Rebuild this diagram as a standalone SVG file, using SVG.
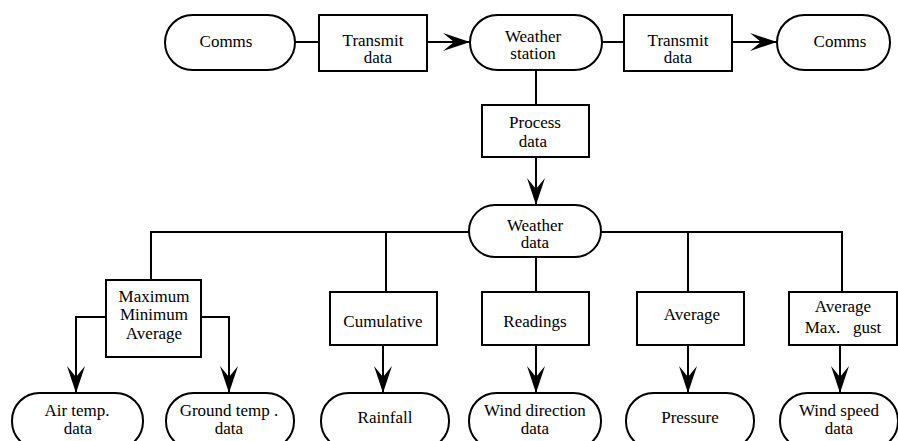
<svg xmlns="http://www.w3.org/2000/svg" width="898" height="441" viewBox="0 0 898 441">
<style>
.n{fill:#fff;stroke:#000;stroke-width:2}
.c{fill:none;stroke:#000;stroke-width:2}
.t{font-family:'Liberation Serif',serif;font-size:17px;text-anchor:middle;fill:#000}
</style>
<defs>
<marker id="ah" markerUnits="userSpaceOnUse" markerWidth="27" markerHeight="18" viewBox="0 0 27 18" refX="27" refY="9" orient="auto">
<path d="M0,0 L27,9 L0,18 L11,9 Z" fill="#000"/>
</marker>
</defs>
<g id="connectors">
<path class="c" d="M295,42 H319"/>
<path class="c" d="M427,42 H470" marker-end="url(#ah)"/>
<path class="c" d="M602,42 H624"/>
<path class="c" d="M732,42 H777" marker-end="url(#ah)"/>
<path class="c" d="M536,70 V105"/>
<path class="c" d="M536,157 V205" marker-end="url(#ah)"/>
<path class="c" d="M469,232 H151 V280"/>
<path class="c" d="M601,232 H842 V292"/>
<path class="c" d="M386,232 V292"/>
<path class="c" d="M688,232 V292"/>
<path class="c" d="M536,257 V292"/>
<path class="c" d="M106,317 H76 V393" marker-end="url(#ah)"/>
<path class="c" d="M201,317 H229 V393" marker-end="url(#ah)"/>
<path class="c" d="M383,345 V393" marker-end="url(#ah)"/>
<path class="c" d="M536,345 V393" marker-end="url(#ah)"/>
<path class="c" d="M688,345 V393" marker-end="url(#ah)"/>
<path class="c" d="M840,345 V393" marker-end="url(#ah)"/>
</g>
<g id="comms1"><rect class="n" x="165" y="15" width="130" height="55" rx="27.5"/><text class="t" x="226" y="47">Comms</text></g>
<g id="transmit1"><rect class="n" x="319" y="15" width="108" height="56"/><text class="t" x="373" y="46">Transmit</text><text class="t" x="378" y="63">data</text></g>
<g id="weather-station"><rect class="n" x="470" y="15" width="132" height="55" rx="27.5"/><text class="t" x="533" y="42">Weather</text><text class="t" x="533" y="59">station</text></g>
<g id="transmit2"><rect class="n" x="624" y="15" width="108" height="56"/><text class="t" x="678" y="46">Transmit</text><text class="t" x="678" y="63">data</text></g>
<g id="comms2"><rect class="n" x="777" y="15" width="113" height="55" rx="27.5"/><text class="t" x="840" y="47">Comms</text></g>
<g id="process"><rect class="n" x="482" y="105" width="107" height="52"/><text class="t" x="535" y="128">Process</text><text class="t" x="533" y="147">data</text></g>
<g id="weather-data"><rect class="n" x="469" y="205" width="132" height="52" rx="26"/><text class="t" x="535" y="231">Weather</text><text class="t" x="535" y="248">data</text></g>
<g id="maxminavg"><rect class="n" x="106" y="280" width="95" height="77"/><text class="t" x="154" y="302">Maximum</text><text class="t" x="154" y="320">Minimum</text><text class="t" x="154" y="339">Average</text></g>
<g id="cumulative"><rect class="n" x="330" y="292" width="107" height="53"/><text class="t" x="383" y="327">Cumulative</text></g>
<g id="readings"><rect class="n" x="482" y="292" width="107" height="53"/><text class="t" x="535" y="327">Readings</text></g>
<g id="average"><rect class="n" x="637" y="292" width="107" height="53"/><text class="t" x="692" y="320">Average</text></g>
<g id="avgmax"><rect class="n" x="789" y="292" width="108" height="53"/><text class="t" x="843" y="312">Average</text><text class="t" x="843" y="333" xml:space="preserve">Max.   gust</text></g>
<g id="air-temp"><rect class="n" x="12" y="393" width="131" height="56" rx="27.5"/><text class="t" x="77" y="416">Air temp.</text><text class="t" x="78" y="434">data</text></g>
<g id="ground-temp"><rect class="n" x="166" y="393" width="128" height="56" rx="27.5"/><text class="t" x="229" y="416">Ground temp .</text><text class="t" x="229" y="434">data</text></g>
<g id="rainfall"><rect class="n" x="321" y="393" width="128" height="56" rx="27.5"/><text class="t" x="385" y="423">Rainfall</text></g>
<g id="wind-direction"><rect class="n" x="469" y="393" width="132" height="56" rx="27.5"/><text class="t" x="535" y="416">Wind direction</text><text class="t" x="535" y="434">data</text></g>
<g id="pressure"><rect class="n" x="626" y="393" width="128" height="56" rx="27.5"/><text class="t" x="690" y="423">Pressure</text></g>
<g id="wind-speed"><rect class="n" x="780" y="393" width="118" height="56" rx="27.5"/><text class="t" x="839" y="416">Wind speed</text><text class="t" x="839" y="434">data</text></g>
</svg>
